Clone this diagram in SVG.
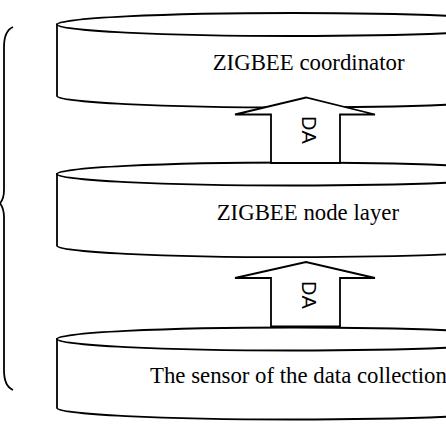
<svg xmlns="http://www.w3.org/2000/svg" width="446" height="446" viewBox="0 0 446 446">
<style>
.shape{fill:#fff;stroke:#000;stroke-width:1.8;stroke-linejoin:miter}
.lbl{font-family:"Liberation Serif","Times New Roman",serif;font-size:22.8px;fill:#000}
.da{font-family:"Liberation Sans",Arial,sans-serif;font-size:20px;fill:#000;text-anchor:middle}
</style>
<rect width="446" height="446" fill="#fff"/>
<g id="brace">
<path d="M13,27 C6,30 4,37 4,47 L4,190 C4,198 2,201 0,203 C2,206 4,209 4,217 L4,370 C4,380 6,387 13,390" fill="none" stroke="#000" stroke-width="1.8"/>
</g>
<g id="coordinator">
<path class="shape" d="M57,24.5 L57,96 A236,11.5 0 0 0 529,96 L529,24.5 Z"/>
<ellipse class="shape" cx="293" cy="24.5" rx="236" ry="11.5"/>
<text class="lbl" x="212.7" y="70">ZIGBEE coordinator</text>
</g>
<g id="nodelayer">
<path class="shape" d="M57,174 L57,245.7 A236,11.5 0 0 0 529,245.7 L529,174 Z"/>
<ellipse class="shape" cx="293" cy="174" rx="236" ry="11.5"/>
<text class="lbl" x="216.7" y="220">ZIGBEE node layer</text>
</g>
<g id="sensor">
<path class="shape" d="M57,339 L57,408 A236,11.5 0 0 0 529,408 L529,339 Z"/>
<ellipse class="shape" cx="293" cy="339" rx="236" ry="11.5"/>
<text class="lbl" x="150" y="383.3">The sensor of the data collection</text>
</g>
<g id="connectors">
<g id="arrow1">
<path class="shape" d="M271,163 L271,114.5 L235,114.5 L306,97.5 L375,114.5 L340,114.5 L340,163 Z"/>
<text class="da" transform="translate(302,130) rotate(90)">DA</text>
</g>
<g id="arrow2">
<path class="shape" d="M271,326.5 L271,278 L235,278 L306,262 L375,278 L340,278 L340,326.5 Z"/>
<text class="da" transform="translate(302,295) rotate(90)">DA</text>
</g>
</g>
</svg>
